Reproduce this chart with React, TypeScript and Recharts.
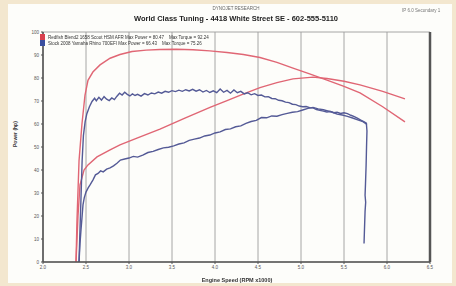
import { CartesianGrid, Line, LineChart, XAxis, YAxis } from "recharts";

// engine speed (x1000 rpm) ticks and axis values
const rpmTicks = [2.0, 2.5, 3.0, 3.5, 4.0, 4.5, 5.0, 5.5, 6.0, 6.5];
const valueTicks = [0, 10, 20, 30, 40, 50, 60, 70, 80, 90, 100];

// [rpm, value] pairs
const redTorque = [
  [2.384, 0], [2.395, 18], [2.419, 44], [2.453, 60], [2.488, 72.5], [2.523, 79], [2.58, 82.6],
  [2.663, 85.7], [2.78, 88.6], [2.895, 90.2], [3.035, 91.5], [3.2, 92.1], [3.36, 92.4], [3.55, 92.5],
  [3.744, 92.3], [3.94, 91.8], [4.14, 91.1], [4.33, 90.2], [4.523, 88.9], [4.72, 86.8], [4.907, 84.3],
  [5.1, 81.8], [5.302, 79.1], [5.5, 76.4], [5.686, 73.5], [5.95, 67.5], [6.209, 60.9],
];

const redPower = [
  [2.384, 0], [2.407, 20], [2.43, 33.5], [2.477, 40], [2.523, 42.2], [2.628, 45.7], [2.78, 48.7],
  [2.895, 50.9], [3.1, 54], [3.36, 57.8], [3.65, 62.6], [3.942, 67.2], [4.14, 70.2], [4.326, 73],
  [4.523, 75.8], [4.72, 78], [4.907, 79.6], [5.14, 80.4], [5.302, 79.8], [5.5, 78.6], [5.686, 77],
  [5.95, 74.2], [6.209, 70.9],
];

const blueTorque = [
  [2.419, 0], [2.43, 14], [2.442, 28], [2.455, 44], [2.47, 55], [2.49, 61], [2.51, 64.5], [2.54, 67.5],
  [2.57, 69.8], [2.6, 71.2], [2.62, 70.1], [2.65, 71.6], [2.68, 70.4], [2.71, 71.9], [2.74, 70.8],
  [2.77, 70.2], [2.8, 71.3], [2.83, 70.6], [2.86, 72.1], [2.89, 73.4], [2.92, 72.6], [2.95, 73.8],
  [2.98, 72.9], [3.01, 72.2], [3.04, 73.1], [3.07, 72.4], [3.1, 72.9], [3.14, 72.1], [3.18, 73.2],
  [3.22, 72.6], [3.26, 73.5], [3.3, 73.1], [3.34, 73.9], [3.38, 73.4], [3.42, 74.2], [3.46, 73.8],
  [3.5, 74.5], [3.54, 74.1], [3.58, 74.7], [3.62, 74.2], [3.66, 74.9], [3.7, 74.4], [3.74, 75.1],
  [3.78, 74.3], [3.82, 74.9], [3.86, 73.9], [3.9, 74.6], [3.94, 73.7], [3.98, 74.4], [4.02, 73.6],
  [4.06, 75.2], [4.1, 73.8], [4.14, 74.6], [4.18, 73.4], [4.22, 74.8], [4.26, 73.6], [4.3, 74.2],
  [4.34, 73.1], [4.38, 73.6], [4.42, 72.7], [4.46, 73.2], [4.5, 72.4], [4.54, 72.6], [4.58, 71.8],
  [4.62, 71.9], [4.66, 71.1], [4.7, 71.0], [4.74, 70.3], [4.78, 70.1], [4.82, 69.5], [4.86, 69.3],
  [4.9, 68.6], [4.94, 68.4], [4.98, 67.8], [5.02, 67.5], [5.06, 67.6], [5.1, 67.1], [5.14, 67],
  [5.18, 66.3], [5.22, 65.9], [5.26, 65.6], [5.3, 65.2], [5.34, 65.4], [5.38, 64.9], [5.42, 65.1],
  [5.46, 64.6], [5.5, 64.9], [5.54, 64.5], [5.58, 63.8], [5.62, 63.2], [5.66, 62.4], [5.7, 61.6],
  [5.73, 61], [5.76, 60.4], [5.767, 57], [5.762, 50], [5.757, 42], [5.75, 34], [5.745, 29],
  [5.752, 26], [5.745, 22], [5.738, 14], [5.733, 8],
];

const bluePower = [
  [2.419, 0], [2.43, 8], [2.442, 14], [2.455, 20], [2.465, 24.8], [2.48, 28], [2.5, 30.4],
  [2.525, 32.2], [2.547, 33.5], [2.58, 35.6], [2.61, 37.9], [2.64, 38.5], [2.67, 39.6], [2.7, 39.2],
  [2.74, 40.4], [2.78, 40.9], [2.82, 41.8], [2.86, 42.9], [2.9, 44.3], [2.95, 44.8], [3.0, 45.2],
  [3.05, 45.9], [3.1, 45.6], [3.16, 46.5], [3.22, 47.6], [3.28, 48.1], [3.34, 48.9], [3.4, 49.6],
  [3.46, 49.9], [3.52, 50.5], [3.58, 51.3], [3.64, 51.8], [3.7, 52.9], [3.76, 53.4], [3.82, 53.9],
  [3.88, 54.8], [3.94, 55.2], [4.0, 56.1], [4.06, 56.6], [4.12, 57.6], [4.18, 57.9], [4.24, 58.8],
  [4.3, 59.2], [4.36, 60.3], [4.42, 61.1], [4.48, 61.6], [4.54, 62.8], [4.6, 62.7], [4.66, 63.5],
  [4.72, 63.4], [4.78, 64.1], [4.84, 64.6], [4.9, 65.1], [4.96, 65.4], [5.02, 66.1], [5.08, 66.8],
  [5.14, 67.2], [5.2, 66.6], [5.26, 66.2], [5.3, 65.8], [5.36, 65.2], [5.42, 64.3], [5.48, 63.9],
  [5.54, 63.3], [5.6, 62.6], [5.66, 61.8], [5.72, 61], [5.767, 59.8],
];

const legendRows = [
  { color: "#d9404e", text: "Redfish Blend2 1658 Scoot HSM AFR Max Power = 80.47    Max Torque = 92.24" },
  { color: "#3a4fa0", text: "Stock 2008 Yamaha Rhino 700EFI Max Power = 66.43    Max Torque = 75.26" },
];

const toPoints = (rows: number[][]) => rows.map(([x, y]) => ({ x, y }));

const RED = "#e06674";
const BLUE = "#545a96";
const tickStyle = { fontSize: 4.5, fill: "#555", fontFamily: "Liberation Sans" };

export default function App() {
  return (
    <div style={{ position: "fixed", left: 0, top: 0, width: 456, height: 286, background: "#f3e7cf", fontFamily: "Liberation Sans" }}>
      <div style={{ position: "absolute", left: 8, top: 4, width: 444, height: 279, background: "#fdfdfa" }} />
      <div style={{ position: "absolute", left: 0, top: 0 }}>
        <LineChart width={456} height={286} margin={{ top: 32, right: 10, left: 23, bottom: 10 }}>
          <CartesianGrid stroke="#9c9c9c" strokeWidth={0.9} ticks={rpmTicks} />
          <XAxis
            type="number"
            dataKey="x"
            domain={[2, 6.5]}
            ticks={rpmTicks}
            tickFormatter={(v: number) => v.toFixed(1)}
            tick={tickStyle}
            tickSize={2}
            height={14}
            axisLine={{ stroke: "#555", strokeWidth: 1.6 }}
            tickLine={{ stroke: "#555" }}
            allowDataOverflow
          />
          <YAxis
            yAxisId="left"
            domain={[0, 100]}
            ticks={valueTicks}
            tick={tickStyle}
            tickSize={2}
            width={20}
            axisLine={{ stroke: "#555", strokeWidth: 1.6 }}
            tickLine={{ stroke: "#555" }}
            label={{ value: "Power (hp)", angle: -90, position: "insideLeft", offset: -8, style: { fontSize: 5, fill: "#333", fontWeight: "bold" } }}
          />
          <YAxis
            yAxisId="right"
            orientation="right"
            domain={[0, 100]}
            ticks={valueTicks}
            tick={tickStyle}
            tickSize={2}
            width={16}
            axisLine={{ stroke: "#555", strokeWidth: 2.5 }}
            tickLine={{ stroke: "#555" }}
          />
          <Line yAxisId="left" data={toPoints(redTorque)} dataKey="y" stroke={RED} strokeWidth={1.4} dot={false} type="linear" isAnimationActive={false} />
          <Line yAxisId="left" data={toPoints(redPower)} dataKey="y" stroke={RED} strokeWidth={1.4} dot={false} type="linear" isAnimationActive={false} />
          <Line yAxisId="left" data={toPoints(bluePower)} dataKey="y" stroke={BLUE} strokeWidth={1.4} dot={false} type="linear" isAnimationActive={false} />
          <Line yAxisId="left" data={toPoints(blueTorque)} dataKey="y" stroke={BLUE} strokeWidth={1.4} dot={false} type="linear" isAnimationActive={false} />
        </LineChart>
      </div>
      <div style={{ position: "absolute", left: 0, width: 472, top: 6, textAlign: "center", fontSize: 4.5, color: "#666" }}>DYNOJET RESEARCH</div>
      <div style={{ position: "absolute", left: 402, top: 8, fontSize: 4.5, color: "#777", whiteSpace: "nowrap" }}>IP 6.0 Secondary 1</div>
      <div style={{ position: "absolute", left: 0, width: 472, top: 14, textAlign: "center", fontSize: 7.5, fontWeight: "bold", color: "#222", whiteSpace: "nowrap" }}>
        World Class Tuning - 4418 White Street SE - 602-555-5110
      </div>
      <div style={{ position: "absolute", left: 40, top: 34 }}>
        {legendRows.map((r) => (
          <div key={r.text} style={{ display: "flex", alignItems: "center", height: 6 }}>
            <div style={{ width: 5, height: 6, background: r.color, marginRight: 3 }} />
            <span style={{ fontSize: 4.5, color: "#333", whiteSpace: "pre" }}>{r.text}</span>
          </div>
        ))}
      </div>
      <div style={{ position: "absolute", left: 0, width: 474, top: 277, textAlign: "center", fontSize: 5.5, fontWeight: "bold", color: "#333" }}>
        Engine Speed (RPM x1000)
      </div>
    </div>
  );
}
